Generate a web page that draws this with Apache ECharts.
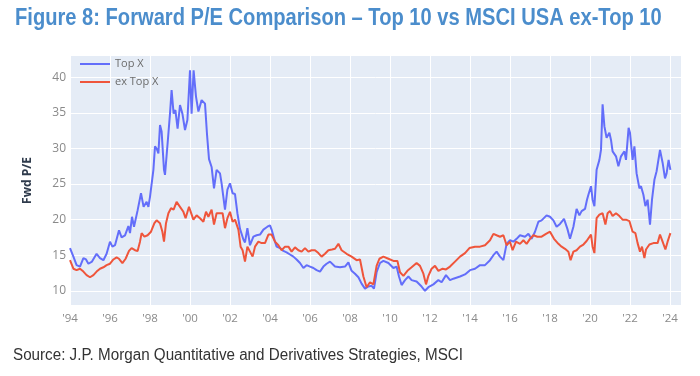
<!DOCTYPE html>
<html>
<head>
<meta charset="utf-8">
<script src="https://cdn.jsdelivr.net/npm/echarts@6/dist/echarts.min.js"></script>
<style>
html,body{margin:0;padding:0;background:#fff;}
#chart{width:700px;height:376px;}
</style>
</head>
<body>
<div id="chart"></div>
<script>
// ---- data (year as decimal, forward P/E) ----
var topDates = [1994.00,1994.17,1994.33,1994.5,1994.67,1994.8,1994.92,1995.1,1995.33,1995.5,1995.67,1995.83,1996.0,1996.12,1996.25,1996.45,1996.58,1996.75,1996.92,1997.0,1997.1,1997.2,1997.38,1997.55,1997.68,1997.83,1997.92,1998.0,1998.17,1998.25,1998.33,1998.42,1998.5,1998.58,1998.7,1998.75,1998.88,1999.0,1999.08,1999.18,1999.27,1999.38,1999.5,1999.62,1999.75,1999.87,2000.0,2000.08,2000.18,2000.3,2000.42,2000.58,2000.75,2000.85,2000.95,2001.08,2001.2,2001.33,2001.5,2001.58,2001.75,2001.87,2002.0,2002.13,2002.25,2002.37,2002.5,2002.67,2002.75,2002.87,2003.0,2003.17,2003.33,2003.5,2003.67,2003.87,2004.0,2004.08,2004.25,2004.33,2004.5,2004.67,2004.83,2005.0,2005.17,2005.33,2005.5,2005.67,2005.83,2006.0,2006.17,2006.33,2006.5,2006.67,2006.83,2007.0,2007.25,2007.5,2007.75,2007.92,2008.08,2008.25,2008.42,2008.58,2008.75,2008.83,2008.92,2009.08,2009.2,2009.33,2009.5,2009.67,2009.92,2010.17,2010.33,2010.45,2010.58,2010.75,2010.92,2011.08,2011.33,2011.58,2011.75,2011.92,2012.17,2012.42,2012.58,2012.8,2013.0,2013.17,2013.5,2013.75,2014.0,2014.25,2014.5,2014.75,2015.0,2015.17,2015.33,2015.5,2015.67,2015.83,2016.0,2016.17,2016.33,2016.5,2016.75,2016.92,2017.08,2017.25,2017.42,2017.58,2017.83,2018.0,2018.17,2018.33,2018.5,2018.7,2018.87,2019.0,2019.17,2019.33,2019.47,2019.58,2019.75,2019.85,2019.92,2020.05,2020.13,2020.22,2020.33,2020.47,2020.55,2020.63,2020.72,2020.83,2020.97,2021.05,2021.13,2021.3,2021.42,2021.55,2021.72,2021.8,2021.93,2022.0,2022.13,2022.22,2022.33,2022.47,2022.55,2022.67,2022.77,2022.88,2023.0,2023.1,2023.22,2023.33,2023.5,2023.63,2023.75,2023.83,2023.93,2024.02];
var topValues = [16.0,14.8,13.6,13.4,14.6,14.4,13.8,14.1,15.2,14.6,14.3,15.2,16.9,16.2,16.4,18.5,17.5,17.8,19.1,18.1,20.4,19.0,21.3,23.7,21.8,22.5,21.8,23.2,27.0,30.3,30.0,29.3,33.3,32.4,27.0,26.3,30.7,34.9,38.2,34.9,35.4,32.8,36.1,34.9,32.6,34.0,41.0,34.9,41.0,37.3,35.2,36.8,36.3,32.0,28.5,27.4,24.4,27.0,26.5,25.1,21.4,24.2,25.1,23.7,23.6,20.9,18.7,17.2,16.8,18.8,16.4,17.6,17.8,17.9,18.6,19.0,19.2,18.6,16.9,16.2,16.0,15.6,15.4,15.1,14.8,14.4,13.9,13.2,13.6,13.4,13.2,12.9,12.7,13.4,13.8,14.1,13.4,13.3,13.4,14.0,12.8,12.4,11.9,11.0,10.3,10.2,10.6,10.7,10.3,12.6,13.9,14.2,13.9,13.2,13.4,12.0,10.8,11.5,12.0,11.5,11.3,10.6,10.0,10.5,10.9,11.5,11.2,12.2,11.5,11.7,12.0,12.3,12.9,13.1,13.6,13.6,14.3,15.0,15.5,14.8,14.3,16.6,17.1,16.9,17.3,17.8,17.6,18.0,17.3,18.3,19.7,19.9,20.6,20.4,19.9,19.0,19.4,20.1,18.7,17.3,19.0,21.5,20.6,21.2,21.5,22.8,23.5,24.7,22.8,21.9,27.0,28.4,29.8,36.2,33.1,31.5,32.2,31.2,29.6,28.9,27.5,28.9,29.6,28.4,32.9,32.2,28.4,30.3,26.5,24.4,24.7,23.5,21.9,22.8,19.3,22.8,25.6,26.8,29.8,28.0,25.8,26.5,28.4,27.0];

var exDates = [1994.0,1994.17,1994.33,1994.5,1994.67,1994.83,1995.0,1995.17,1995.33,1995.5,1995.67,1995.83,1996.0,1996.17,1996.33,1996.45,1996.62,1996.78,1996.95,1997.08,1997.25,1997.38,1997.5,1997.58,1997.72,1997.88,1998.05,1998.22,1998.33,1998.5,1998.62,1998.7,1998.8,1998.92,1999.05,1999.18,1999.33,1999.5,1999.67,1999.78,1999.95,2000.05,2000.17,2000.33,2000.5,2000.67,2000.8,2000.92,2001.08,2001.2,2001.33,2001.5,2001.63,2001.75,2001.87,2002.0,2002.13,2002.25,2002.42,2002.53,2002.63,2002.75,2002.87,2003.0,2003.13,2003.25,2003.42,2003.58,2003.75,2003.92,2004.08,2004.25,2004.42,2004.58,2004.75,2004.92,2005.08,2005.25,2005.42,2005.58,2005.75,2005.92,2006.08,2006.25,2006.42,2006.58,2006.75,2006.92,2007.1,2007.25,2007.42,2007.58,2007.83,2008.08,2008.33,2008.5,2008.58,2008.67,2008.83,2009.0,2009.17,2009.33,2009.47,2009.67,2009.92,2010.17,2010.37,2010.5,2010.67,2010.87,2011.08,2011.33,2011.5,2011.67,2011.8,2011.92,2012.08,2012.25,2012.42,2012.63,2012.8,2013.0,2013.25,2013.5,2013.75,2013.97,2014.25,2014.5,2014.75,2015.0,2015.17,2015.33,2015.5,2015.67,2015.83,2016.0,2016.13,2016.3,2016.5,2016.67,2016.83,2017.0,2017.17,2017.37,2017.58,2017.8,2018.0,2018.2,2018.42,2018.58,2018.75,2018.92,2019.03,2019.17,2019.33,2019.5,2019.67,2019.83,2020.05,2020.13,2020.22,2020.33,2020.47,2020.63,2020.77,2020.88,2021.0,2021.13,2021.3,2021.47,2021.63,2021.8,2021.97,2022.13,2022.27,2022.38,2022.5,2022.6,2022.72,2022.8,2022.97,2023.17,2023.38,2023.5,2023.63,2023.77,2023.88,2024.02];
var exValues = [14.3,13.1,12.9,13.1,12.7,12.2,11.9,12.2,12.7,13.1,13.3,13.6,13.8,14.4,14.7,14.5,13.9,14.5,15.6,16.0,15.7,15.6,16.9,18.1,17.6,17.8,18.3,19.5,19.9,19.5,18.3,16.9,19.5,20.9,21.6,21.4,22.5,21.8,21.1,20.2,21.8,22.0,20.0,20.6,20.2,19.7,21.1,20.4,21.4,19.3,20.9,20.9,20.9,18.8,20.2,21.1,19.7,20.0,18.6,16.2,15.7,14.1,16.2,15.5,14.8,16.2,16.9,16.7,16.7,17.9,17.9,16.9,16.4,15.7,16.2,16.2,15.5,16.1,15.7,15.5,16.0,15.5,15.7,15.7,15.3,14.8,15.2,15.7,15.8,15.9,16.6,15.7,15.2,14.8,14.3,14.4,14.6,12.0,10.5,11.2,10.9,13.5,14.5,14.8,14.5,14.2,14.2,12.6,12.1,12.8,13.3,13.9,13.5,12.4,10.9,12.1,13.1,13.5,12.8,13.1,13.0,13.4,14.1,14.8,15.3,16.0,16.2,16.2,16.4,17.1,18.0,17.8,17.6,17.8,16.4,16.9,15.7,16.9,16.6,17.1,16.6,17.3,17.8,17.6,17.6,18.0,18.3,17.3,16.6,16.2,15.9,15.5,14.3,15.5,15.7,16.2,16.5,17.0,17.9,16.2,15.3,20.2,20.7,20.9,19.3,20.9,21.2,20.5,20.9,20.5,20.0,20.0,19.8,18.3,18.1,16.7,15.5,16.2,14.6,15.8,16.5,16.7,16.7,17.9,16.9,15.8,16.9,18.1];

var seriesNames = ['Top X', 'ex Top X'];
var xTickYears = [1994,1996,1998,2000,2002,2004,2006,2008,2010,2012,2014,2016,2018,2020,2022,2024];
var titleText = 'Figure 8: Forward P/E Comparison \u2013 Top 10 vs MSCI USA ex-Top 10';
var sourceText = 'Source: J.P. Morgan Quantitative and Derivatives Strategies, MSCI';
var yAxisName = 'Fwd P/E';

function pairs(xs, ys){ return xs.map(function(x,i){ return [x, ys[i]]; }); }

var chart = echarts.init(document.getElementById('chart'), null, {renderer:'canvas'});
chart.setOption({
  animation: false,
  backgroundColor: '#ffffff',
  graphic: [{
    type: 'text', x: 15, y: 19, scaleX: 0.875, scaleY: 1, originX: 0, originY: 0,
    style: {
      text: titleText, x: 0, y: 0, verticalAlign: 'middle', align: 'left',
      fontFamily: "'Liberation Sans',Arial,sans-serif", fontWeight: 'bold', fontSize: 23, fill: '#4b8dcc'
    }
  },{
    type: 'text', x: 13, y: 356, scaleX: 0.95, scaleY: 1, originX: 0, originY: 0,
    style: {
      text: sourceText, x: 0, y: 0, verticalAlign: 'middle', align: 'left',
      fontFamily: "'Liberation Sans',Arial,sans-serif", fontWeight: 'normal', fontSize: 16, fill: '#333333'
    }
  }],
  legend: {
    orient: 'vertical',
    left: 80, top: 57, padding: 0,
    icon: 'rect',
    itemWidth: 30, itemHeight: 2, itemGap: 4,
    data: seriesNames,
    textStyle: {fontFamily: "'Open Sans',sans-serif", fontSize: 11, lineHeight: 14, color: '#6b6b6b'}
  },
  grid: {
    left: 70, right: 19, top: 56, bottom: 71,
    show: true, backgroundColor: '#E5ECF6', borderWidth: 0
  },
  xAxis: {
    type: 'value',
    min: 1994, max: 2024.55, interval: 2,
    axisLine: {show: false}, axisTick: {show: false},
    splitLine: {show: true, lineStyle: {color: '#ffffff', width: 1}},
    axisLabel: {
      showMaxLabel: false,
      margin: 8,
      color: '#8a8a8a', fontFamily: "'Open Sans',sans-serif", fontSize: 11.5,
      formatter: function(v){ return xTickYears.indexOf(v) >= 0 ? "'" + String(v).slice(2) : ''; }
    }
  },
  yAxis: {
    type: 'value',
    min: 8, max: 43, splitNumber: 7, minInterval: 5, maxInterval: 5,
    name: yAxisName, nameLocation: 'middle', nameGap: 36,
    nameTextStyle: {fontFamily: "'Open Sans',sans-serif", fontWeight: 'bold', fontSize: 12, color: '#2f3b4c'},
    axisLine: {show: false}, axisTick: {show: false},
    splitLine: {show: true, showMinLine: false, showMaxLine: false, lineStyle: {color: '#ffffff', width: 1}},
    axisLabel: {
      showMinLabel: false, showMaxLabel: false,
      margin: 4,
      color: '#8a8a8a', fontFamily: "'Open Sans',sans-serif", fontSize: 12,
      formatter: function(v){ return (v % 5 === 0) ? String(v) : ''; }
    }
  },
  series: [{
    name: seriesNames[0], type: 'line', symbol: 'none', showSymbol: false,
    data: pairs(topDates, topValues),
    lineStyle: {color: '#636EFA', width: 2}, itemStyle: {color: '#636EFA'}
  },{
    name: seriesNames[1], type: 'line', symbol: 'none', showSymbol: false,
    data: pairs(exDates, exValues),
    lineStyle: {color: '#EF553B', width: 2}, itemStyle: {color: '#EF553B'}
  }]
});
</script>
</body>
</html>
